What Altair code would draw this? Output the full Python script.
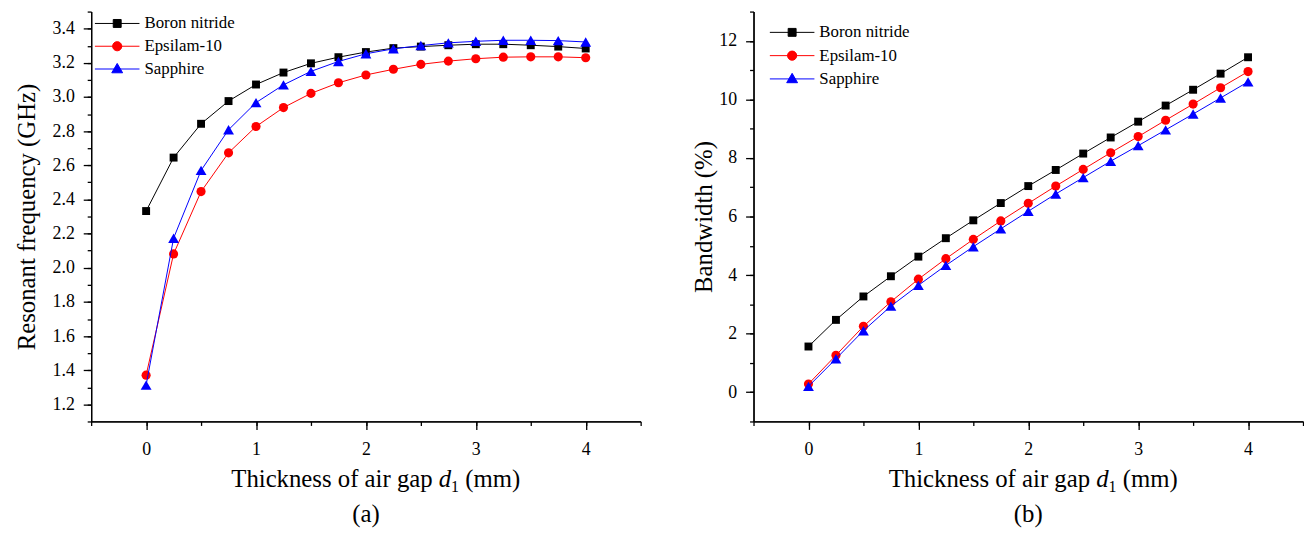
import altair as alt
import pandas as pd

# ---------------- data ----------------
thickness = [0, 0.25, 0.5, 0.75, 1, 1.25, 1.5, 1.75, 2, 2.25, 2.5, 2.75, 3, 3.25, 3.5, 3.75, 4]
series_names = ["Boron nitride", "Epsilam-10", "Sapphire"]

freq_boron = [2.332, 2.645, 2.843, 2.976, 3.073, 3.143, 3.197, 3.233, 3.263, 3.286, 3.295,
              3.303, 3.309, 3.309, 3.303, 3.295, 3.284]
freq_epsilam = [1.371, 2.081, 2.446, 2.673, 2.827, 2.938, 3.021, 3.083, 3.129, 3.162, 3.191,
                3.210, 3.224, 3.233, 3.235, 3.235, 3.230]
freq_sapphire = [1.313, 2.173, 2.570, 2.808, 2.967, 3.071, 3.150, 3.208, 3.253, 3.282, 3.301,
                 3.317, 3.326, 3.332, 3.332, 3.330, 3.322]

bw_boron = [1.56, 2.47, 3.27, 3.96, 4.63, 5.26, 5.87, 6.46, 7.04, 7.59, 8.15, 8.70, 9.24,
            9.79, 10.33, 10.88, 11.44]
bw_epsilam = [0.28, 1.26, 2.25, 3.09, 3.86, 4.56, 5.22, 5.85, 6.45, 7.04, 7.61, 8.18, 8.73,
              9.29, 9.84, 10.40, 10.95]
bw_sapphire = [0.20, 1.14, 2.10, 2.94, 3.65, 4.33, 4.97, 5.58, 6.18, 6.77, 7.33, 7.89, 8.42,
               8.96, 9.50, 10.05, 10.60]

x_title_main = "Thickness of air gap"
x_title_var = "d"
x_title_sub = "1"
x_title_unit = "(mm)"
y_title_a = "Resonant frequency (GHz)"
y_title_b = "Bandwidth (%)"
panel_letters = ["(a)", "(b)"]

# ---------------- styles ----------------
colors = ["#000000", "#ff0000", "#0000ff"]
marker_shapes = ["square", "circle", "triangle-up"]
marker_sizes = [64, 85, 120]
legend_paths = [
    "M-5,0H5M-0.89,-0.89H0.89V0.89H-0.89Z",
    "M-5,0H5M-1.03,0A1.03,1.03 0 1,0 1.03,0A1.03,1.03 0 1,0 -1.03,0Z",
    "M-5,0H5M0,-1.25L1.22,0.85L-1.22,0.85Z",
]
FONT = "Liberation Serif"
W, H = 555, 414


def long_df(values_list):
    rows = []
    for name, vals in zip(series_names, values_list):
        for d, v in zip(thickness, vals):
            rows.append({"d": d, "v": v, "series": name})
    return pd.DataFrame(rows)


def panel(df, ydomain, yminor, ymajor, yfmt, ytitle, ytitle_x, legend_x, legend_y,
          row_pad, letter, title_shift):
    base = alt.Chart(df)
    xscale = alt.Scale(domain=[-0.5, 4.5], nice=False, zero=False)
    yscale = alt.Scale(domain=ydomain, nice=False, zero=False)
    ax = dict(domainColor="black", domainWidth=1.3, tickColor="black", tickWidth=1.3, grid=False)
    xminor = [round(-0.5 + 0.5 * i, 1) for i in range(11)]
    xmajor = [0, 1, 2, 3, 4]

    leg = alt.Legend(title=None, orient="none", legendX=legend_x, legendY=legend_y, padding=0,
                     symbolOffset=0, labelOffset=19, rowPadding=row_pad, labelFont=FONT,
                     labelFontSize=17, labelColor="black", symbolSize=81, symbolStrokeWidth=1,
                     symbolFillColor="black", symbolOpacity=1, labelLimit=300)
    legend_layer = base.transform_filter("false").mark_point(filled=True, opacity=1, size=81).encode(
        x=alt.X("d:Q", scale=xscale,
                axis=alt.Axis(orient="bottom", values=xminor, labels=False, tickSize=4, title=None, **ax)),
        y=alt.Y("v:Q", scale=yscale,
                axis=alt.Axis(orient="left", values=yminor, labels=False, tickSize=4, title=None, **ax)),
        fill=alt.Fill("series:N", scale=alt.Scale(domain=series_names, range=colors), legend=leg),
        stroke=alt.Stroke("series:N", scale=alt.Scale(domain=series_names, range=colors), legend=leg),
        shape=alt.Shape("series:N", scale=alt.Scale(domain=series_names, range=legend_paths), legend=leg),
    )
    layers = [legend_layer]
    for i, name in enumerate(series_names):
        sub = base.transform_filter(alt.datum.series == name)
        if i == 0:
            xax = alt.Axis(orient="bottom", values=xmajor, format="d", tickSize=8, labelPadding=11,
                           labelFont=FONT, labelFontSize=18, labelColor="black", title=None, **ax)
            yax = alt.Axis(orient="left", values=ymajor, format=yfmt, tickSize=8, labelPadding=9,
                           labelFont=FONT, labelFontSize=18, labelColor="black", title=ytitle,
                           titleX=ytitle_x, titleY=H / 2, titleAngle=-90, titleBaseline="middle",
                           titleAlign="center", titleFont=FONT, titleFontSize=25,
                           titleFontWeight="normal", titleColor="black", **ax)
        else:
            xax = None
            yax = None
        line = sub.mark_line(color=colors[i], strokeWidth=1).encode(
            x=alt.X("d:Q", scale=xscale, axis=xax),
            y=alt.Y("v:Q", scale=yscale, axis=yax),
        )
        pts = sub.mark_point(filled=True, opacity=1, shape=marker_shapes[i], size=marker_sizes[i],
                             color=colors[i]).encode(
            x=alt.X("d:Q", scale=xscale, axis=None),
            y=alt.Y("v:Q", scale=yscale, axis=None),
        )
        layers += [line, pts]

    tdata = alt.Data(values=[{}])
    F = 25
    base_y = 480
    A = W / 2 + title_shift - 146 + 203.4
    txt = dict(font=FONT, color="black", baseline="alphabetic")
    t1 = alt.Chart(tdata).mark_text(text=x_title_main, align="right", fontSize=F, **txt).encode(
        x=alt.value(A), y=alt.value(base_y))
    t2 = alt.Chart(tdata).mark_text(text=x_title_var, align="left", fontSize=F, fontStyle="italic", **txt).encode(
        x=alt.value(A + 6.25), y=alt.value(base_y))
    t3 = alt.Chart(tdata).mark_text(text=x_title_sub, align="left", fontSize=16, **txt).encode(
        x=alt.value(A + 18.6), y=alt.value(base_y + 5))
    t4 = alt.Chart(tdata).mark_text(text=x_title_unit, align="left", fontSize=F, **txt).encode(
        x=alt.value(A + 33), y=alt.value(base_y))
    t5 = alt.Chart(tdata).mark_text(text=letter, align="center", fontSize=F, **txt).encode(
        x=alt.value(W / 2), y=alt.value(516))
    layers += [t1, t2, t3, t4, t5]

    return alt.layer(*layers).resolve_axis(x="independent", y="independent").properties(width=W, height=H)


df_a = long_df([freq_boron, freq_epsilam, freq_sapphire])
df_b = long_df([bw_boron, bw_epsilam, bw_sapphire])

left = panel(df_a, [1.1, 3.5], [round(1.1 + 0.1 * i, 1) for i in range(25)],
             [round(1.2 + 0.2 * i, 1) for i in range(12)], ".1f", y_title_a, -65.7,
             17.8, 3.5, 5, panel_letters[0], 10)
right = panel(df_b, [-1, 13], list(range(-1, 14)), list(range(0, 13, 2)), "d", y_title_b, -50.3,
              30.5, 12.5, 5.5, panel_letters[1], 5)

chart = alt.hconcat(left, right, spacing=114, bounds="flush").resolve_scale(
    fill="independent", stroke="independent", shape="independent"
).configure(font=FONT).configure_view(stroke=None).properties(
    padding={"left": 6, "top": 0, "right": 0, "bottom": 0}
)

chart.save("out.html", embed_options={"renderer": "svg", "actions": False})
